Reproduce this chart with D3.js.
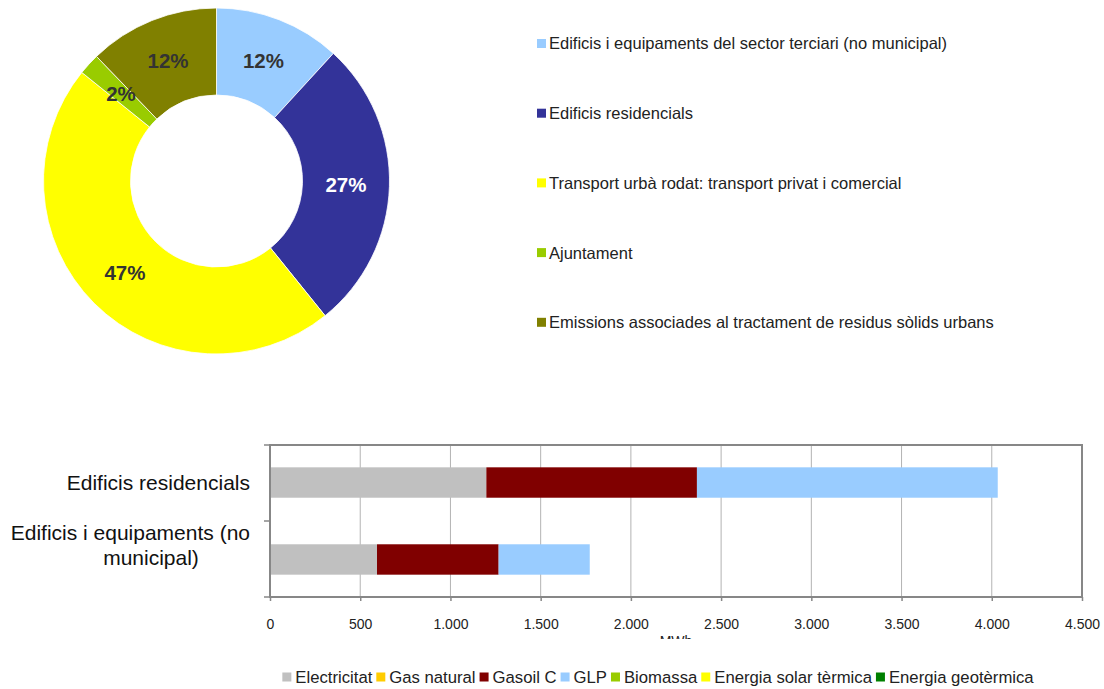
<!DOCTYPE html>
<html>
<head>
<meta charset="utf-8">
<script src="https://cdn.jsdelivr.net/npm/d3@7"></script>
<style>
  html, body { margin: 0; padding: 0; background: #fff; }
  svg { display: block; font-family: "Liberation Sans", Arial, sans-serif; }
</style>
</head>
<body>
<svg id="chart" width="1104" height="689"></svg>
<script>
// ---------- Data ----------
const pieCategories = [
  "Edificis i equipaments del sector terciari (no municipal)",
  "Edificis residencials",
  "Transport urbà rodat: transport privat i comercial",
  "Ajuntament",
  "Emissions associades al tractament de residus sòlids urbans"
];
const pieValues = [11.8, 27.4, 46.6, 2.0, 12.2];
const pieColors = ["#99CCFF", "#333399", "#FFFF00", "#99CC00", "#808000"];
const pieLabelColors = ["#333333", "#ffffff", "#333333", "#333333", "#333333"];

const barCategories = ["Edificis residencials", "Edificis i equipaments (no municipal)"];
const energySources = ["Electricitat", "Gas natural", "Gasoil C", "GLP", "Biomassa", "Energia solar tèrmica", "Energia geotèrmica"];
const electricitat = [1199, 593];
const gasNatural   = [0, 0];
const gasoilC      = [1167, 674];
const glp          = [1667, 505];
const biomassa     = [0, 0];
const solarTermica = [0, 0];
const geotermica   = [0, 0];
const energyColors = ["#C0C0C0", "#FFCC00", "#800000", "#99CCFF", "#99CC00", "#FFFF00", "#008000"];
const xTicks = [0, 500, 1000, 1500, 2000, 2500, 3000, 3500, 4000, 4500];
const xAxisTitle = "MWh";

(function () {
// ---------- Setup ----------
const svg = d3.select("#chart");

// ---------- Donut ----------
const cx = 216.5, cy = 181, rOuter = 173, rInner = 86;
const pieGen = d3.pie().sort(null).value(d => d)(pieValues);
const arc = d3.arc().innerRadius(rInner).outerRadius(rOuter);
const gPie = svg.append("g").attr("transform", `translate(${cx},${cy})`);
gPie.selectAll("path").data(pieGen).join("path")
  .attr("d", arc)
  .attr("fill", (d, i) => pieColors[i])
  .attr("stroke", "#ffffff")
  .attr("stroke-width", 0.8);
gPie.selectAll("text").data(pieGen).join("text")
  .attr("transform", d => `translate(${arc.centroid(d)})`)
  .attr("text-anchor", "middle")
  .attr("dy", "0.36em")
  .attr("font-size", 20.5)
  .attr("font-weight", "bold")
  .attr("fill", (d, i) => pieLabelColors[i])
  .text(d => Math.round(d.data) + "%");

// ---------- Donut legend ----------
const gLeg = svg.append("g");
pieCategories.forEach((c, i) => {
  const yc = 43.5 + i * 69.7;
  gLeg.append("rect").attr("x", 537).attr("y", yc - 4.5).attr("width", 9).attr("height", 9).attr("fill", pieColors[i]);
  gLeg.append("text").attr("x", 549).attr("y", yc).attr("dy", "0.36em")
    .attr("font-size", 16.5).attr("fill", "#222").text(c);
});

// ---------- Bar chart ----------
const pLeft = 270, pRight = 1082, pTop = 445, pBottom = 597;
const x = d3.scaleLinear().domain([0, 4500]).range([pLeft, pRight]);
const y = d3.scaleBand().domain(barCategories).range([pTop, pBottom]).paddingInner(0.605).paddingOuter(0.29);

const seriesArrays = [electricitat, gasNatural, gasoilC, glp, biomassa, solarTermica, geotermica];
const table = barCategories.map((c, i) => {
  const row = { category: c };
  energySources.forEach((s, k) => row[s] = seriesArrays[k][i]);
  return row;
});
const stacked = d3.stack().keys(energySources)(table);

// gridlines
svg.append("g").selectAll("line").data(xTicks.slice(1, -1)).join("line")
  .attr("x1", d => x(d)).attr("x2", d => x(d))
  .attr("y1", pTop).attr("y2", pBottom)
  .attr("stroke", "#b3b3b3").attr("stroke-width", 1);

// bars
svg.append("g").selectAll("g").data(stacked).join("g")
  .attr("fill", (d, i) => energyColors[i])
  .selectAll("rect").data(d => d).join("rect")
  .attr("x", d => x(d[0]))
  .attr("width", d => x(d[1]) - x(d[0]))
  .attr("y", d => y(d.data.category))
  .attr("height", y.bandwidth());

// frame
svg.append("rect").attr("x", pLeft).attr("y", pTop).attr("width", pRight - pLeft).attr("height", pBottom - pTop)
  .attr("fill", "none").attr("stroke", "#878787").attr("stroke-width", 2);

// x axis
const fmt = d3.formatLocale({ decimal: ",", thousands: ".", grouping: [3], currency: ["", "€"] }).format(",");
const gx = svg.append("g").attr("transform", `translate(0,${pBottom})`)
  .call(d3.axisBottom(x).tickValues(xTicks).tickFormat(fmt).tickSize(4).tickPadding(18));
gx.select(".domain").remove();
gx.selectAll(".tick line").attr("stroke", "#878787").attr("stroke-width", 1.5);
gx.selectAll(".tick text").attr("font-size", 14).attr("fill", "#222").attr("font-family", "Liberation Sans, Arial, sans-serif");

// y category ticks (band boundaries)
const midBoundary = (y(barCategories[0]) + y.bandwidth() + y(barCategories[1])) / 2;
svg.append("g").selectAll("line").data([pTop, midBoundary, pBottom]).join("line")
  .attr("x1", pLeft - 6).attr("x2", pLeft).attr("y1", d => d).attr("y2", d => d)
  .attr("stroke", "#878787").attr("stroke-width", 1.5);

// category labels
svg.append("text").attr("x", 250).attr("y", y(barCategories[0]) + y.bandwidth() / 2).attr("dy", "0.36em")
  .attr("text-anchor", "end").attr("font-size", 21).attr("fill", "#111").text(barCategories[0]);
const words = barCategories[1].split(" ");
svg.append("text").attr("x", 250).attr("y", 532).attr("dy", "0.36em")
  .attr("text-anchor", "end").attr("font-size", 21).attr("fill", "#111").text(words.slice(0, 4).join(" "));
svg.append("text").attr("x", 151).attr("y", 557).attr("dy", "0.36em")
  .attr("text-anchor", "middle").attr("font-size", 21).attr("fill", "#111").text(words.slice(4).join(" "));

// axis title (clipped)
svg.append("clipPath").attr("id", "titleClip").append("rect").attr("x", 0).attr("y", 0).attr("width", 1104).attr("height", 639);
svg.append("text").attr("clip-path", "url(#titleClip)")
  .attr("x", (pLeft + pRight) / 2).attr("y", 646).attr("text-anchor", "middle")
  .attr("font-size", 14).attr("fill", "#222").text(xAxisTitle);

// bottom legend
const gB = svg.append("g");
let cursor = 0;
energySources.forEach((s, i) => {
  const g = gB.append("g").attr("transform", `translate(${cursor},0)`);
  g.append("rect").attr("x", 0).attr("y", -4.5).attr("width", 9).attr("height", 9).attr("fill", energyColors[i]);
  const t = g.append("text").attr("x", 13).attr("dy", "0.36em").attr("font-size", 16.7).attr("fill", "#222").text(s);
  cursor += 13 + t.node().getComputedTextLength() + 4;
});
const totalW = cursor - 4;
gB.attr("transform", `translate(${658 - totalW / 2},677)`);
})();
</script>
</body>
</html>
